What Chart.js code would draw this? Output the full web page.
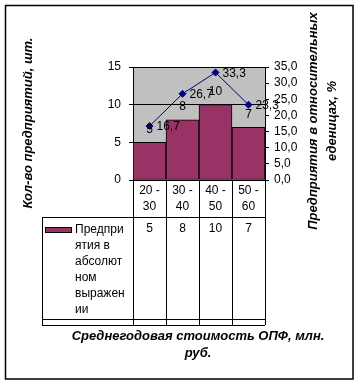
<!DOCTYPE html>
<html>
<head>
<meta charset="utf-8">
<script src="https://cdn.jsdelivr.net/npm/chart.js@4.4.0/dist/chart.umd.min.js"></script>
<style>
  html, body { margin: 0; padding: 0; background: #fff; }
  canvas { display: block; }
</style>
</head>
<body>
<canvas id="myChart" width="359" height="385"></canvas>
<script>
// chart data
const categories = ['20 - 30', '30 - 40', '40 - 50', '50 - 60'];
const absValues = [5, 8, 10, 7];
const relValues = [16.7, 26.7, 33.3, 23.3];
const absLabel = 'Предприятия в абсолютном выражении';
const absLegendLines = ['Предпри', 'ятия в', 'абсолют', 'ном', 'выражен', 'ии'];
const leftTitle = 'Кол-во предприятий, шт.';
const rightTitle = ['Предприятия в относительных', 'еденицах, %'];
const xTitle = ['Среднегодовая стоимость ОПФ, млн.', 'руб.'];

const FONT = '"Liberation Sans", Arial, sans-serif';
const BAR_COLOR = '#993366';
const LINE_COLOR = '#000080';

function fmt(v) {
  return v.toFixed(1).replace('.', ',');
}

// gray plot background + outer frame
const backgroundPlugin = {
  id: 'background',
  beforeDraw(chart) {
    const ctx = chart.ctx;
    const a = chart.chartArea;
    ctx.save();
    ctx.fillStyle = '#fff';
    ctx.fillRect(0, 0, chart.width, chart.height);
    ctx.fillStyle = '#c0c0c0';
    ctx.fillRect(a.left, a.top, a.right - a.left, a.bottom - a.top);
    ctx.strokeStyle = '#000';
    ctx.lineWidth = 1.5;
    ctx.strokeRect(5.5, 5.5, 347.5, 373.5);
    ctx.restore();
  }
};

// value labels on bars and line points
const labelsPlugin = {
  id: 'valueLabels',
  afterDatasetsDraw(chart) {
    const ctx = chart.ctx;
    ctx.save();
    ctx.font = '12px ' + FONT;
    ctx.fillStyle = '#000';
    ctx.textBaseline = 'middle';
    const bars = chart.getDatasetMeta(0).data;
    ctx.textAlign = 'center';
    bars.forEach((b, i) => {
      ctx.fillText(String(absValues[i]), b.x, b.y - 13);
    });
    const pts = chart.getDatasetMeta(1).data;
    ctx.textAlign = 'left';
    pts.forEach((p, i) => {
      ctx.fillText(fmt(relValues[i]), p.x + 7, p.y + 1);
    });
    ctx.restore();
  }
};

// data table under the plot and axis titles
const tablePlugin = {
  id: 'dataTable',
  afterDraw(chart) {
    const ctx = chart.ctx;
    const a = chart.chartArea;
    const xs = chart.scales.x;
    const colW = (a.right - a.left) / categories.length;
    const tLeft = 42;
    const rowCat = a.bottom + 37;
    const rowLeg = rowCat + 102;
    const rowEnd = rowLeg + 6;

    ctx.save();
    ctx.strokeStyle = '#000';
    ctx.lineWidth = 1;
    ctx.beginPath();
    for (let i = 0; i <= categories.length; i++) {
      const x = Math.round(a.left + i * colW) + 0.5;
      ctx.moveTo(x, a.bottom);
      ctx.lineTo(x, rowEnd);
    }
    [rowCat, rowLeg, rowEnd].forEach(y => {
      ctx.moveTo(tLeft, Math.round(y) + 0.5);
      ctx.lineTo(a.right, Math.round(y) + 0.5);
    });
    ctx.moveTo(tLeft + 0.5, rowCat);
    ctx.lineTo(tLeft + 0.5, rowEnd);
    ctx.stroke();

    ctx.font = '12px ' + FONT;
    ctx.fillStyle = '#000';
    ctx.textAlign = 'center';
    ctx.textBaseline = 'middle';
    categories.forEach((c, i) => {
      const x = xs.getPixelForValue(i);
      const parts = c.split(' - ');
      ctx.fillText(parts[0] + ' -', x, a.bottom + 11);
      ctx.fillText(parts[1], x, a.bottom + 27);
      ctx.fillText(String(absValues[i]), x, rowCat + 12);
    });

    // legend key + wrapped series name
    ctx.fillStyle = BAR_COLOR;
    ctx.fillRect(45, rowCat + 10, 26, 5);
    ctx.strokeRect(45.5, rowCat + 10.5, 26, 5);
    ctx.fillStyle = '#000';
    ctx.textAlign = 'left';
    absLegendLines.forEach((t, i) => {
      ctx.fillText(t, 75, rowCat + 13 + i * 16);
    });

    // titles
    ctx.font = 'italic bold 13px ' + FONT;
    ctx.textAlign = 'center';
    ctx.fillText(xTitle[0], 198, rowEnd + 11);
    ctx.fillText(xTitle[1], 198, rowEnd + 28);

    ctx.save();
    ctx.translate(28, 123);
    ctx.rotate(-Math.PI / 2);
    ctx.fillText(leftTitle, 0, 0);
    ctx.restore();

    ctx.save();
    ctx.translate(313, 121);
    ctx.rotate(-Math.PI / 2);
    ctx.fillText(rightTitle[0], 0, 0);
    ctx.fillText(rightTitle[1], 0, 19);
    ctx.restore();
    ctx.restore();
  }
};

const ctx = document.getElementById('myChart').getContext('2d');
new Chart(ctx, {
  data: {
    labels: categories,
    datasets: [
      {
        type: 'bar',
        label: absLabel,
        data: absValues,
        yAxisID: 'y',
        backgroundColor: BAR_COLOR,
        borderColor: '#000',
        borderWidth: 1,
        borderSkipped: false,
        categoryPercentage: 1,
        barPercentage: 1,
        order: 2
      },
      {
        type: 'line',
        label: 'Предприятия в относительных еденицах',
        data: relValues,
        yAxisID: 'y1',
        borderColor: LINE_COLOR,
        borderWidth: 1,
        pointStyle: 'rectRot',
        pointRadius: 3.5,
        pointBackgroundColor: LINE_COLOR,
        pointBorderColor: LINE_COLOR,
        tension: 0,
        order: 1
      }
    ]
  },
  options: {
    responsive: false,
    devicePixelRatio: 1,
    animation: false,
    layout: { padding: { left: 0, right: 0, top: 67, bottom: 205 } },
    plugins: { legend: { display: false }, tooltip: { enabled: false } },
    scales: {
      x: { display: false, offset: true },
      y: {
        position: 'left',
        min: 0, max: 15,
        ticks: { stepSize: 5, autoSkip: false, color: '#000', font: { family: FONT, size: 12 }, padding: 8 },
        grid: { color: '#000', lineWidth: 1, tickLength: 4, drawOnChartArea: true },
        border: { color: '#000', width: 1 },
        afterFit(s) { s.width = 133; }
      },
      y1: {
        position: 'right',
        min: 0, max: 35,
        ticks: {
          stepSize: 5, autoSkip: false, color: '#000', font: { family: FONT, size: 12 }, padding: 5,
          callback: v => fmt(v)
        },
        grid: { color: '#000', lineWidth: 1, tickLength: 4, drawOnChartArea: false },
        border: { color: '#000', width: 1 },
        afterFit(s) { s.width = 94; }
      }
    }
  },
  plugins: [backgroundPlugin, labelsPlugin, tablePlugin]
});
</script>
</body>
</html>
